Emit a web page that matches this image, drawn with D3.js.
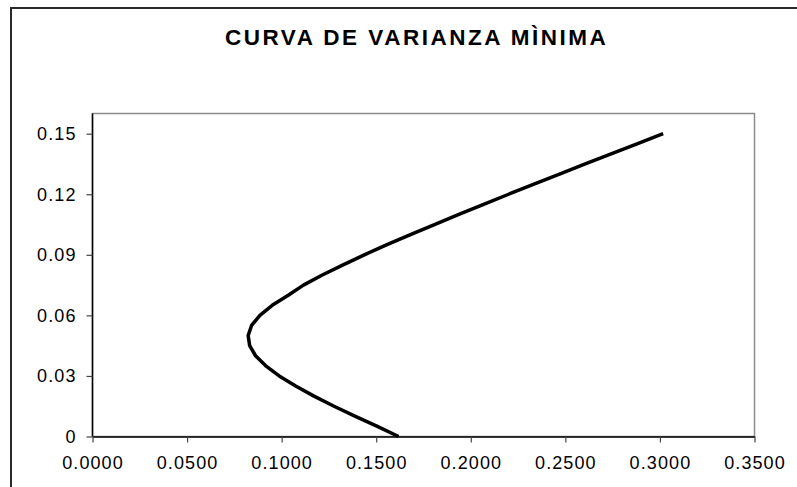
<!DOCTYPE html>
<html>
<head>
<meta charset="utf-8">
<script src="https://cdn.jsdelivr.net/npm/d3@7"></script>
<style>
  html, body { margin: 0; padding: 0; background: #fff; }
  svg { display: block; }
</style>
</head>
<body>
<svg id="chart" width="797" height="487"></svg>
<script>
// ---- Data ----
const title = "CURVA DE VARIANZA MÌNIMA";
// expected return (vertical axis)
const returns = [0, 0.005, 0.01, 0.015, 0.02, 0.025, 0.03, 0.035, 0.04, 0.045, 0.05,
                 0.055, 0.06, 0.065, 0.07, 0.075, 0.08, 0.085, 0.09, 0.095, 0.1,
                 0.105, 0.11, 0.115, 0.12, 0.125, 0.13, 0.135, 0.14, 0.145, 0.15];
// risk / standard deviation (horizontal axis)
const risks = [0.1618, 0.1506, 0.1390, 0.1277, 0.1171, 0.1074, 0.0987, 0.0916, 0.0862, 0.0831, 0.0823,
               0.0841, 0.0885, 0.0950, 0.1035, 0.1115, 0.1215, 0.1325, 0.1437, 0.1557, 0.1681,
               0.1808, 0.1937, 0.2068, 0.2200, 0.2334, 0.2469, 0.2605, 0.2742, 0.2879, 0.3017];
const xTicks = [0, 0.05, 0.10, 0.15, 0.20, 0.25, 0.30, 0.35];
const yTicks = [0, 0.03, 0.06, 0.09, 0.12, 0.15];

// ---- Layout ----
const svg = d3.select("#chart");
const pLeft = 92.5, pRight = 754.5, pTop = 113.5, pBottom = 436.5;

const x = d3.scaleLinear().domain([0, 0.35]).range([pLeft, pRight]);
const y = d3.scaleLinear().domain([0, 0.16]).range([pBottom, pTop]);

// outer chart border
svg.append("rect")
  .attr("x", 11).attr("y", 8)
  .attr("width", 820).attr("height", 520)
  .attr("fill", "none").attr("stroke", "#2a2a2a").attr("stroke-width", 2);

// title
svg.append("text")
  .attr("x", 225).attr("y", 45)
  .attr("font-family", "Liberation Sans, Arial, sans-serif")
  .attr("font-weight", "bold")
  .attr("font-size", "22.5px")
  .attr("letter-spacing", "2.5px")
  .attr("fill", "#000")
  .text(title);

// plot area frame (top/right grey)
svg.append("rect")
  .attr("x", pLeft).attr("y", pTop)
  .attr("width", pRight - pLeft).attr("height", pBottom - pTop)
  .attr("fill", "#fff").attr("stroke", "#8c8c8c").attr("stroke-width", 1.5);

// axes
const fmtX = d3.format(".4f");
const fmtY = d => d === 0 ? "0" : d3.format(".2f")(d);

const xAxis = svg.append("g")
  .attr("transform", `translate(0,${pBottom})`)
  .call(d3.axisBottom(x).tickValues(xTicks).tickFormat(fmtX).tickSize(6).tickSizeOuter(0).tickPadding(14));

const yAxis = svg.append("g")
  .attr("transform", `translate(${pLeft},0)`)
  .call(d3.axisLeft(y).tickValues(yTicks).tickFormat(fmtY).tickSize(6).tickSizeOuter(0).tickPadding(10));

[xAxis, yAxis].forEach(g => {
  g.select(".domain").attr("stroke", "#000").attr("stroke-width", 1.5);
  g.selectAll(".tick line").attr("stroke", "#444").attr("stroke-width", 1.2);
  g.selectAll(".tick text")
    .attr("font-family", "Liberation Sans, Arial, sans-serif")
    .attr("font-size", "18px")
    .attr("letter-spacing", "1.1px")
    .attr("fill", "#000");
});
// y-axis domain spans whole plot height
yAxis.select(".domain").attr("d", `M0,${pBottom}V${pTop}`);

// curve
const pts = returns.map((r, i) => ({ r, s: risks[i] }));
const line = d3.line().x(d => x(d.s)).y(d => y(d.r)).curve(d3.curveLinear);
svg.append("path")
  .datum(pts)
  .attr("d", line)
  .attr("fill", "none")
  .attr("stroke", "#000")
  .attr("stroke-width", 3.5)
  .attr("stroke-linejoin", "round")
  .attr("stroke-linecap", "butt");
</script>
</body>
</html>
